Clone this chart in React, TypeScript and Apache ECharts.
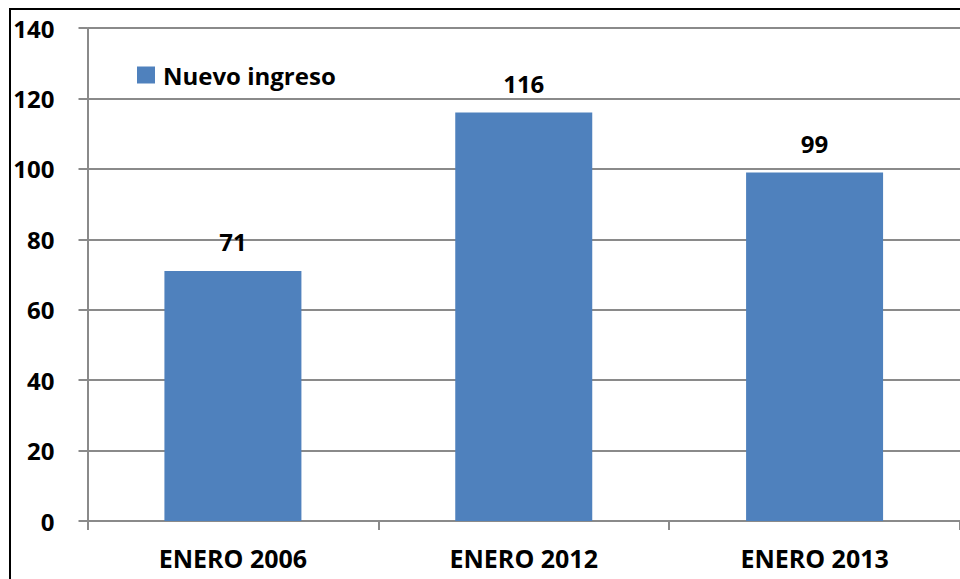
import React, { useEffect, useRef } from "react";
import * as echarts from "echarts";

const categories = ["ENERO 2006", "ENERO 2012", "ENERO 2013"];
const seriesName = "Nuevo ingreso";
const values = [71, 116, 99];
const yMin = 0;
const yMax = 140;
const yInterval = 20;

const FONT = "'Open Sans', 'Noto Sans', sans-serif";
const GRAY = "#8a8a8a";

export default function App() {
  const ref = useRef<HTMLDivElement>(null);
  useEffect(() => {
    if (!ref.current) return;
    const chart = echarts.init(ref.current, undefined, { renderer: "svg" });
    chart.setOption({
      animation: false,
      backgroundColor: "#ffffff",
      legend: {
        show: true,
        left: 137,
        top: 63,
        padding: 0,
        itemWidth: 18,
        itemHeight: 17,
        icon: "rect",
        data: [seriesName],
        textStyle: {
          fontFamily: FONT,
          fontWeight: "bold",
          fontSize: 24,
          color: "#000",
          padding: [0, 0, 0, 3],
        },
      },
      grid: {
        left: 87.5,
        top: 28,
        bottom: 58,
        width: 877.5,
        containLabel: false,
      },
      xAxis: {
        type: "category",
        data: categories,
        boundaryGap: true,
        axisLine: { show: true, lineStyle: { color: GRAY, width: 2 } },
        axisTick: { show: true, length: 9, lineStyle: { color: GRAY, width: 2 } },
        axisLabel: {
          fontFamily: FONT,
          fontWeight: "bold",
          fontSize: 25,
          color: "#000",
          margin: 24,
          lineHeight: 25,
        },
        splitLine: { show: false },
      },
      yAxis: {
        type: "value",
        min: yMin,
        max: yMax,
        interval: yInterval,
        axisLine: { show: true, lineStyle: { color: GRAY, width: 2 } },
        axisTick: { show: true, length: 9, lineStyle: { color: GRAY, width: 2 } },
        axisLabel: {
          fontFamily: FONT,
          fontWeight: "bold",
          fontSize: 24,
          color: "#000",
          margin: 33,
        },
        splitLine: { show: true, lineStyle: { color: GRAY, width: 2 } },
      },
      series: [
        {
          name: seriesName,
          type: "bar",
          data: values,
          barWidth: 137,
          itemStyle: { color: "#4F81BD" },
          label: {
            show: true,
            position: "top",
            distance: 17,
            fontFamily: FONT,
            fontWeight: "bold",
            fontSize: 24,
            lineHeight: 24,
            color: "#000",
          },
        },
      ],
      graphic: [
        {
          type: "rect",
          z: 100,
          silent: true,
          shape: { x: 10, y: 9, width: 1000, height: 1000 },
          style: { fill: "none", stroke: "#000", lineWidth: 2 },
        },
      ],
    });
    return () => chart.dispose();
  }, []);
  return (
    <div
      ref={ref}
      style={{ position: "absolute", left: 0, top: 0, width: 960, height: 579 }}
    />
  );
}
